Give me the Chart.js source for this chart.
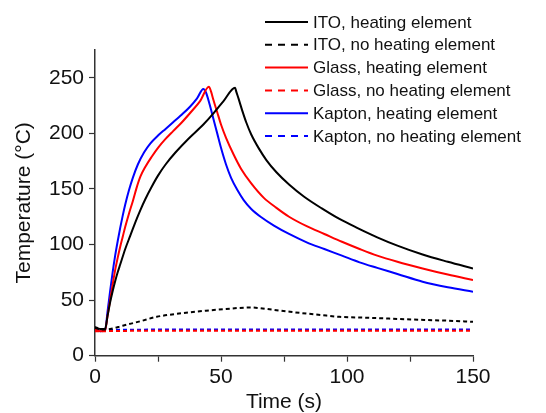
<!DOCTYPE html>
<html>
<head>
<meta charset="utf-8">
<script src="https://cdn.jsdelivr.net/npm/chart.js@4.4.0/dist/chart.umd.min.js"></script>
<style>
  html, body { margin: 0; padding: 0; background: #fff; }
  #wrap { width: 546px; height: 413px; }
</style>
</head>
<body>
<div id="wrap"><canvas id="myChart"></canvas></div>
<script>
// ITO, heating element
const tItoHeat = [0, 2, 4, 5, 6, 7, 8, 9, 10, 12, 14, 16, 18, 20, 22.5, 25, 28, 32, 37, 43, 47, 51, 55.6, 56, 57, 58.5, 60, 62, 65, 68, 72, 77, 83, 90, 97, 104, 112, 120, 130, 140, 150];
const itoHeat = [26, 24, 24, 36, 48, 58, 67, 75, 82, 96, 108, 120, 131, 141, 152, 162, 172, 183, 195, 208, 218, 229, 241, 238, 231, 220, 210, 199, 186.5, 176, 165, 154, 143, 132.5, 123, 115, 106.5, 99, 91, 84.5, 78.5];
// ITO, no heating element
const tItoNo = [0, 3, 6, 11, 18, 24.5, 32, 44, 52, 61.5, 70, 77.4, 90, 97, 110, 123.7, 140, 150];
const itoNo = [25, 23.5, 24, 27, 31, 35, 37.5, 40.5, 42, 43.4, 41.5, 39.5, 36.5, 35, 34, 32.7, 31.5, 30.5];
// Glass, heating element
const tGlassHeat = [0, 2, 4, 5, 6, 7, 8, 9, 10, 11, 12, 13.5, 15, 16.5, 18, 20, 22.5, 25, 28, 31, 34.5, 38, 41.7, 45.2, 46, 47, 48.5, 50, 52, 55, 58, 62, 67, 72, 77, 84, 91, 98, 105, 112, 120, 130, 140, 150];
const glassHeat = [24, 22, 23, 36, 50, 64, 77, 88, 98, 107, 116, 128, 139, 151, 161, 170, 179, 187, 195, 202, 210, 219, 229, 242, 238, 230, 219, 208, 196, 181, 168, 155, 142, 133, 125, 116.5, 109.5, 102.5, 96, 90, 84.5, 78.5, 73, 68];
// Glass, no heating element
const tGlassNo = [0, 25, 50, 75, 100, 125, 150];
const glassNo = [22, 22.5, 22.5, 22.5, 22.5, 22.5, 22.5];
// Kapton, heating element
const tKaptonHeat = [0, 2, 4, 5, 6, 7, 8, 9, 10, 11, 12, 13.5, 15, 17, 19.5, 22, 25, 28, 31, 34, 37.7, 40.5, 43, 44, 45.5, 47, 48.5, 50, 52, 54, 56.5, 59, 62, 66, 71, 77, 84, 91, 98, 105, 112, 120, 130, 140, 150];
const kaptonHeat = [24, 22, 23, 40, 58, 75, 90, 103, 115, 126, 136, 149, 160, 172, 183, 191, 198, 204, 210, 216, 224, 231.5, 240, 237, 226, 213, 200, 187, 172, 160, 149, 140, 132, 124.5, 117, 109.5, 102, 96, 90, 84, 79, 73.5, 66.5, 61.5, 57.5];
// Kapton, no heating element
const tKaptonNo = [0, 25, 50, 75, 100, 125, 150];
const kaptonNo = [23, 23.5, 23.5, 23.5, 23.5, 23.5, 23.5];

const xTicks = [0, 50, 100, 150];
const yTicks = [0, 50, 100, 150, 200, 250];

const pts = (ts, vs) => ts.map((t, i) => ({ x: t, y: vs[i] }));

const series = [
  { label: "ITO, heating element", data: pts(tItoHeat, itoHeat), color: "#000000", dash: [] },
  { label: "ITO, no heating element", data: pts(tItoNo, itoNo), color: "#000000", dash: [4, 3] },
  { label: "Glass, heating element", data: pts(tGlassHeat, glassHeat), color: "#ff0000", dash: [] },
  { label: "Glass, no heating element", data: pts(tGlassNo, glassNo), color: "#ff0000", dash: [4, 3] },
  { label: "Kapton, heating element", data: pts(tKaptonHeat, kaptonHeat), color: "#0000ff", dash: [] },
  { label: "Kapton, no heating element", data: pts(tKaptonNo, kaptonNo), color: "#0000ff", dash: [4, 3] },
];

// legend drawn over the plot, like the original figure
const legendPlugin = {
  id: "sideLegend",
  afterDraw(chart) {
    const ctx = chart.ctx;
    ctx.save();
    ctx.font = "17px 'Liberation Sans', Arial, sans-serif";
    ctx.textBaseline = "middle";
    chart.data.datasets.forEach((ds, i) => {
      const y = 22 + i * 22.8;
      ctx.strokeStyle = ds.borderColor;
      ctx.lineWidth = 2;
      ctx.setLineDash(ds.borderDash.length ? [7, 6] : []);
      ctx.beginPath();
      ctx.moveTo(265, y);
      ctx.lineTo(308, y);
      ctx.stroke();
      ctx.setLineDash([]);
      ctx.fillStyle = "#111";
      ctx.fillText(ds.label, 313, y + 1);
    });
    ctx.restore();
  }
};

const tickFont = { family: "'Liberation Sans', Arial, sans-serif", size: 21 };

const config = {
  type: "line",
  data: {
    datasets: series.map((s) => ({
      label: s.label,
      data: s.data,
      borderColor: s.color,
      backgroundColor: s.color,
      borderWidth: 2,
      borderDash: s.dash,
      pointRadius: 0,
      cubicInterpolationMode: "monotone",
      fill: false,
    })),
  },
  options: {
    responsive: true,
    maintainAspectRatio: false,
    animation: false,
    layout: { padding: { top: 50, right: 73, left: 0, bottom: 0 } },
    plugins: { legend: { display: false }, tooltip: { enabled: false } },
    scales: {
      x: {
        type: "linear",
        min: 0,
        max: 150,
        border: { color: "#333", width: 1.5 },
        grid: { drawOnChartArea: false, tickLength: 6, tickColor: "#333", tickWidth: 1.2 },
        ticks: {
          stepSize: 25,
          color: "#111",
          font: tickFont,
          padding: 3,
          maxRotation: 0,
          callback: (v) => (xTicks.includes(v) ? v : ""),
        },
        title: { display: true, text: "Time (s)", color: "#111", font: { ...tickFont, lineHeight: 1 }, padding: { top: 0, bottom: 0 } },
        afterFit: (scale) => { scale.height = 57.3; },
      },
      y: {
        min: 0,
        max: 275,
        border: { color: "#333", width: 1.5 },
        grid: { drawOnChartArea: false, tickLength: 6, tickColor: "#333", tickWidth: 1.2 },
        ticks: {
          stepSize: 25,
          color: "#111",
          font: tickFont,
          padding: 5,
          callback: (v) => (yTicks.includes(v) ? v : ""),
        },
        title: { display: true, text: "Temperature (°C)", color: "#111", font: tickFont, padding: { top: 12, bottom: 0 } },
        afterFit: (scale) => { scale.width = 95; },
      },
    },
  },
  plugins: [legendPlugin],
};

const myChart = new Chart(document.getElementById("myChart"), config);
</script>
</body>
</html>
